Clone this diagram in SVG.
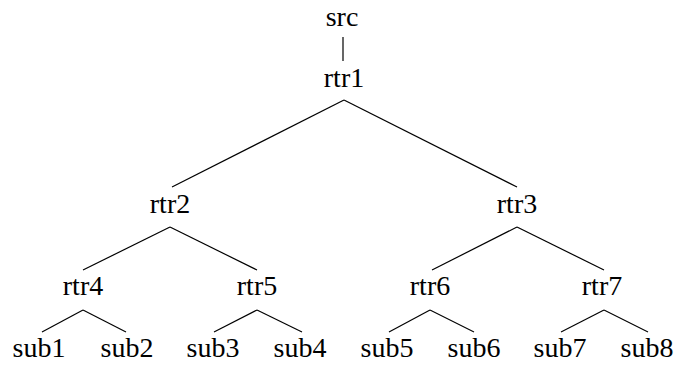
<svg xmlns="http://www.w3.org/2000/svg" width="677" height="367" viewBox="0 0 677 367">
  <style>
    .lbl { font-family: "Liberation Serif", "Times New Roman", serif; font-size: 28px; fill: #000; text-anchor: middle; }
    .edge { stroke: #000; stroke-width: 1.2; fill: none; }
  </style>
  <rect width="677" height="367" fill="#fff"/>
  <g id="connectors">
    <line class="edge" x1="343" y1="37" x2="343" y2="61"/>
    <line class="edge" x1="344" y1="100" x2="172" y2="187"/>
    <line class="edge" x1="344" y1="100" x2="517" y2="187"/>
    <line class="edge" x1="170" y1="227" x2="83" y2="270"/>
    <line class="edge" x1="170" y1="227" x2="257" y2="270"/>
    <line class="edge" x1="517" y1="227" x2="432" y2="270"/>
    <line class="edge" x1="517" y1="227" x2="604" y2="270"/>
    <line class="edge" x1="83" y1="310" x2="42" y2="332"/>
    <line class="edge" x1="83" y1="310" x2="126" y2="332"/>
    <line class="edge" x1="257" y1="310" x2="214" y2="332"/>
    <line class="edge" x1="257" y1="310" x2="302" y2="332"/>
    <line class="edge" x1="430" y1="310" x2="389" y2="332"/>
    <line class="edge" x1="430" y1="310" x2="474" y2="332"/>
    <line class="edge" x1="604" y1="310" x2="561" y2="332"/>
    <line class="edge" x1="604" y1="310" x2="648" y2="332"/>
  </g>
  <g id="src"><text class="lbl" x="342" y="26">src</text></g>
  <g id="rtr1"><text class="lbl" x="344" y="87">rtr1</text></g>
  <g id="rtr2"><text class="lbl" x="170" y="213">rtr2</text></g>
  <g id="rtr3"><text class="lbl" x="517" y="213">rtr3</text></g>
  <g id="rtr4"><text class="lbl" x="83" y="295">rtr4</text></g>
  <g id="rtr5"><text class="lbl" x="257" y="295">rtr5</text></g>
  <g id="rtr6"><text class="lbl" x="430" y="295">rtr6</text></g>
  <g id="rtr7"><text class="lbl" x="602" y="295">rtr7</text></g>
  <g id="sub1"><text class="lbl" x="39" y="357">sub1</text></g>
  <g id="sub2"><text class="lbl" x="127" y="357">sub2</text></g>
  <g id="sub3"><text class="lbl" x="213" y="357">sub3</text></g>
  <g id="sub4"><text class="lbl" x="300" y="357">sub4</text></g>
  <g id="sub5"><text class="lbl" x="387" y="357">sub5</text></g>
  <g id="sub6"><text class="lbl" x="474" y="357">sub6</text></g>
  <g id="sub7"><text class="lbl" x="560" y="357">sub7</text></g>
  <g id="sub8"><text class="lbl" x="647" y="357">sub8</text></g>
</svg>
